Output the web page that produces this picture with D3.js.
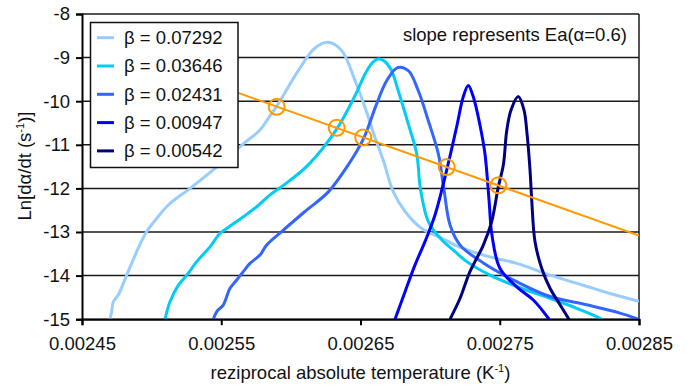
<!DOCTYPE html>
<html><head><meta charset="utf-8">
<script src="https://cdn.jsdelivr.net/npm/d3@7"></script>
<style>body{margin:0;background:#fff;}svg{display:block;font-family:"Liberation Sans",Arial,sans-serif;}</style>
</head><body><svg id="c" width="690" height="390"></svg>
<script>
const seriesNames = ["β = 0.07292","β = 0.03646","β = 0.02431","β = 0.00947","β = 0.00542"];
const seriesColors = ["#99ccff","#00ccf5","#3366ff","#0000ff","#000080"];
const xTicks = [0.00245,0.00255,0.00265,0.00275,0.00285];
const yTicks = [-8,-9,-10,-11,-12,-13,-14,-15];
const xTickLabels = ["0.00245","0.00255","0.00265","0.00275","0.00285"];
// x values in units of 1e-5 K^-1
const x1 = [247.01,247.13,247.25,247.61,248.21,249.04,249.65,250.36,251.20,252.76,254.55,256.58,257.78,258.50,258.98,260.53,261.73,262.69,263.65,264.61,265.32,266.04,266.64,267.36,268.20,269.40,270.83,271.79,273.82,276.22,278.61,281.0,282.92,285.0];
const y1 = [-15,-14.83,-14.60,-14.44,-13.99,-13.37,-12.99,-12.69,-12.38,-12.00,-11.54,-10.98,-10.66,-10.33,-10.12,-9.30,-8.78,-8.65,-8.84,-9.53,-10.14,-10.83,-11.36,-12.08,-12.53,-12.92,-13.14,-13.30,-13.53,-13.72,-13.99,-14.22,-14.41,-14.59];
const x2 = [250.96,251.32,251.92,252.52,253.24,254.19,254.91,255.39,256.58,257.55,258.50,259.34,261.25,263.29,264.61,265.32,265.85,266.25,266.70,267.2,267.71,268.43,269.04,269.3,269.87,270.83,271.79,272.63,274.30,276.22,278.61,280.53,281.96,282.32];
const y2 = [-15,-14.60,-14.22,-13.99,-13.68,-13.34,-13.03,-12.92,-12.65,-12.42,-12.15,-11.96,-11.46,-10.64,-9.87,-9.38,-9.12,-9.03,-9.08,-9.28,-9.76,-10.52,-11.21,-12.0,-12.76,-13.18,-13.45,-13.68,-13.99,-14.25,-14.52,-14.75,-14.94,-15];
const x3 = [254.43,254.67,255.15,255.63,256.11,256.58,257.06,257.78,258.26,259.34,261.01,262.69,264.12,265.20,266.16,266.88,267.66,268.43,269.15,269.87,270.59,271.0,271.43,272.15,273.82,276.22,278.61,281.24,283.64,284.96];
const y3 = [-15,-14.83,-14.67,-14.29,-14.10,-13.91,-13.72,-13.53,-13.30,-12.99,-12.53,-12.08,-11.46,-10.87,-10.06,-9.53,-9.23,-9.30,-9.76,-10.45,-11.21,-12.04,-12.84,-13.30,-13.71,-14.14,-14.48,-14.67,-14.86,-15];
const x4 = [267.48,268.20,268.91,269.63,270.35,271.19,271.91,272.38,272.74,273.10,273.58,273.94,274.23,274.44,275.01,276.22,277.41,278.54];
const y4 = [-15,-14.37,-13.76,-13.22,-12.61,-11.58,-10.58,-9.90,-9.64,-9.90,-10.55,-11.21,-12.27,-13.07,-13.83,-14.26,-14.56,-15];
const x5 = [271.43,272.15,272.86,273.82,274.42,274.90,275.26,275.50,275.81,276.33,276.74,276.94,277.17,277.29,277.53,278.01,278.61,279.33,279.97];
const y5 = [-15,-14.52,-13.91,-13.30,-12.76,-11.96,-11.46,-10.68,-10.20,-9.89,-10.20,-10.68,-11.56,-12.23,-13.22,-13.83,-14.29,-14.67,-15];
const alphaX = [258.98,263.29,265.20,271.19,274.90];
const alphaY = [-10.13,-10.61,-10.83,-11.51,-11.93];
const fitX = [252.0,285.0];
const fitY = [-9.33,-13.08];
const annotation = "slope represents Ea(α=0.6)";

const FS = 18.5;
const svg = d3.select("#c");
const L=82,R=639,T=14,B=319.2;
const x = d3.scaleLinear().domain([0.00245,0.00285]).range([L,R]);
const y = d3.scaleLinear().domain([-15,-8]).range([B,T]);

svg.append("g").selectAll("line").data(yTicks).join("line")
  .attr("x1",L).attr("x2",R).attr("y1",d=>y(d)).attr("y2",d=>y(d))
  .attr("stroke","#1a1a1a").attr("stroke-width",1.5);
svg.append("line").attr("x1",R).attr("x2",R).attr("y1",T).attr("y2",B).attr("stroke","#1a1a1a").attr("stroke-width",1.5);

svg.append("defs").append("clipPath").attr("id","clip").append("rect")
  .attr("x",L).attr("y",T-6).attr("width",R-L).attr("height",B-T+6);

const g = svg.append("g").attr("clip-path","url(#clip)");
const line = d3.line().x(d=>x(d[0]*1e-5)).y(d=>y(d[1])).curve(d3.curveCatmullRom.alpha(0.5));
const xs=[x1,x2,x3,x4,x5], ys=[y1,y2,y3,y4,y5];
xs.forEach((xa,i)=>{
  const pts = xa.map((v,j)=>[v,ys[i][j]]);
  g.append("path").attr("d",line(pts)).attr("fill","none")
   .attr("stroke",seriesColors[i]).attr("stroke-width",3).attr("stroke-linejoin","round");
});
g.append("path").attr("d",d3.line().x(d=>x(d[0]*1e-5)).y(d=>y(d[1]))(fitX.map((v,i)=>[v,fitY[i]])))
  .attr("stroke","#ff9900").attr("stroke-width",2).attr("fill","none");
g.selectAll("circle").data(alphaX).join("circle")
  .attr("cx",d=>x(d*1e-5)).attr("cy",(d,i)=>y(alphaY[i])).attr("r",8)
  .attr("fill","none").attr("stroke","#ff9900").attr("stroke-width",2);

const yAxis = d3.axisLeft(y).tickValues(yTicks).tickSize(6).tickPadding(6);
const ya = svg.append("g").attr("transform",`translate(${L},0)`).call(yAxis);
const xAxis = d3.axisBottom(x).tickValues(xTicks).tickSize(6).tickPadding(12).tickFormat((d,i)=>xTickLabels[i]);
const xa = svg.append("g").attr("transform",`translate(0,${B})`).call(xAxis);
[ya,xa].forEach(a=>{
  a.select(".domain").attr("stroke","#000").attr("stroke-width",2);
  a.selectAll(".tick line").attr("stroke","#000").attr("stroke-width",2);
  a.selectAll("text").attr("font-size",FS).attr("fill","#111").attr("font-family","Liberation Sans, Arial, sans-serif");
});
ya.selectAll("text").text(d=>String(d));

const lg = svg.append("g");
lg.append("rect").attr("x",90.5).attr("y",22.5).attr("width",147.5).attr("height",145)
  .attr("fill","#fff").attr("stroke","#111").attr("stroke-width",1.5);
seriesNames.forEach((n,i)=>{
  const yy = 37.7 + i*28.3;
  lg.append("line").attr("x1",97).attr("x2",114).attr("y1",yy).attr("y2",yy)
    .attr("stroke",seriesColors[i]).attr("stroke-width",3);
  lg.append("text").attr("x",124).attr("y",yy).attr("dy","0.35em").attr("font-size",FS).attr("fill","#111").text(n);
});

svg.append("text").attr("x",627).attr("y",41).attr("text-anchor","end").attr("font-size",FS).attr("fill","#111").text(annotation);

const xt = svg.append("text").attr("x",(L+R)/2).attr("y",379).attr("text-anchor","middle").attr("font-size",FS).attr("fill","#111");
xt.append("tspan").text("reziprocal absolute temperature (K");
xt.append("tspan").attr("font-size",11).attr("dy",-7).text("-1");
xt.append("tspan").attr("dy",7).text(")");
const yt = svg.append("text").attr("transform","translate(31,166) rotate(-90)").attr("text-anchor","middle").attr("font-size",FS).attr("fill","#111");
yt.append("tspan").text("Ln[dα/dt (s");
yt.append("tspan").attr("font-size",11).attr("dy",-7).text("-1");
yt.append("tspan").attr("dy",7).text(")]");
</script></body></html>
